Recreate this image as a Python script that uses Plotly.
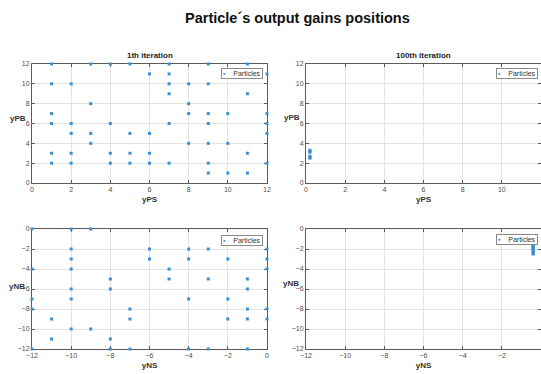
import plotly.graph_objects as go

# ---------------- data ----------------
# 1th iteration: yPS vs yPB
ps_1 = [1, 1, 1, 1, 1, 1,
        2, 2, 2, 2, 2,
        3, 3, 3, 3,
        4, 4, 4, 4,
        5, 5, 5, 5,
        6, 6, 6, 6,
        7, 7, 7, 7, 7, 7,
        8, 8, 8, 8,
        9, 9, 9, 9, 9, 9, 9,
        10, 10, 10,
        11, 11, 11, 11,
        12, 12, 12, 12, 12]
pb_1 = [12, 10, 7, 6, 3, 2,
        10, 6, 5, 3, 2,
        12, 8, 5, 4,
        12, 6, 3, 2,
        12, 5, 3, 2,
        11, 5, 3, 2,
        12, 11, 10, 9, 6, 2,
        10, 8, 7, 4,
        12, 10, 7, 6, 4, 2, 1,
        7, 4, 1,
        12, 9, 3, 1,
        11, 7, 6, 5, 2]

# 100th iteration: yPS vs yPB
ps_100 = [0.2, 0.2, 0.2, 0.2, 0.2, 0.2]
pb_100 = [2.5, 2.6, 2.7, 3.1, 3.2, 3.3]

# 1th iteration: yNS vs yNB
ns_1 = [-12, -12, -12, -12, -12,
        -11, -11,
        -10, -10, -10, -10, -10, -10, -10,
        -9, -9,
        -8, -8, -8, -8,
        -7, -7, -7,
        -6, -6,
        -5, -5,
        -4, -4, -4, -4,
        -3, -3, -3,
        -2, -2, -2,
        -1, -1, -1, -1, -1,
        0, 0, 0, 0, 0]
nb_1 = [0, -4, -7, -8, -12,
        -9, -11,
        0, -2, -3, -4, -6, -7, -10,
        0, -10,
        -5, -6, -11, -12,
        -8, -9, -12,
        -2, -3,
        -4, -5,
        -2, -3, -7, -12,
        -2, -5, -12,
        -3, -7, -9,
        -5, -6, -8, -9, -12,
        -2, -3, -4, -8, -9]

# 100th iteration: yNS vs yNB
ns_100 = [-0.4, -0.4, -0.4, -0.4, -0.4, -0.4, -0.4, -0.4, -0.4, -0.4, -0.4]
nb_100 = [-1.5, -1.6, -1.7, -1.8, -1.9, -2.0, -2.1, -2.2, -2.3, -2.4, -2.5]

main_title = "Particle´s output gains positions"
sub_titles = ["1th iteration", "100th iteration"]
series_name = "Particles"

# ---------------- figure ----------------
W, H = 541, 374
FONT = "Liberation Sans, Arial, sans-serif"
MCOL = "#3a8fd3"
AXCOL = "#5a5a5a"
TICKCOL = "#4d4d4d"
GRID = "#e3e3e3"

def px(x):
    return x / W

def py(y):
    return 1 - y / H

fig = go.Figure()

panels = [
    (ps_1, pb_1, "x", "y"),
    (ps_100, pb_100, "x2", "y2"),
    (ns_1, nb_1, "x3", "y3"),
    (ns_100, nb_100, "x4", "y4"),
]
for xs, ys, xa, ya in panels:
    fig.add_trace(go.Scatter(
        x=xs, y=ys, mode="markers", name=series_name, showlegend=False,
        xaxis=xa, yaxis=ya, cliponaxis=False,
        marker=dict(symbol="square", size=3, color=MCOL, line=dict(width=0)),
    ))

def axis(domain, rng, anchor, title=None):
    d = dict(
        domain=domain, range=rng, anchor=anchor, dtick=2, automargin=False,
        showgrid=True, gridcolor=GRID, gridwidth=1, zeroline=False,
        showline=True, linecolor=AXCOL, linewidth=1, mirror="ticks",
        ticks="inside", ticklen=3, tickcolor=AXCOL, layer="below traces",
        tickfont=dict(family=FONT, size=7, color=TICKCOL),
    )
    if title:
        d["title"] = dict(text="<b>" + title + "</b>", standoff=3,
                          font=dict(family=FONT, size=8, color="#333333"))
    return d

xl = [px(32), px(267)]
xr = [px(306), 1.0]
yt = [py(183), py(64)]
yb = [py(349), py(229)]

fig.update_layout(
    xaxis=axis(xl, [0, 12], "y", "yPS"),
    yaxis=axis(yt, [0, 12], "x"),
    xaxis2=axis(xr, [0, 12], "y2", "yPS"),
    yaxis2=axis(yt, [0, 12], "x2"),
    xaxis3=axis(xl, [-12, 0], "y3", "yNS"),
    yaxis3=axis(yb, [-12, 0], "x3"),
    xaxis4=axis(xr, [-12, 0], "y4", "yNS"),
    yaxis4=axis(yb, [-12, 0], "x4"),
)

# small MATLAB-like legend boxes (one per panel)
legend_text = ("<span style='color:" + MCOL + "'>▪</span>"
               "&nbsp;&nbsp;&nbsp;&nbsp;" + series_name)

def legend_box(xr_px, yt_px):
    return dict(
        text=legend_text, x=px(xr_px), y=py(yt_px), xanchor="right",
        yanchor="top", bgcolor="white", bordercolor="#8a8a8a", borderwidth=1,
        borderpad=1, font=dict(family=FONT, size=7, color="#333333"),
    )

annotations = [
    dict(text="<b>" + main_title + "</b>", x=px(297), y=py(18),
         font=dict(family=FONT, size=14.5, color="#111111")),
    dict(text="<b>" + sub_titles[0] + "</b>", x=px(149.5), y=py(56),
         font=dict(family=FONT, size=8, color="#222222")),
    dict(text="<b>" + sub_titles[1] + "</b>", x=px(423.5), y=py(56),
         font=dict(family=FONT, size=8, color="#222222")),
    dict(text="<b>yPB</b>", x=px(28), y=py(119), xanchor="right",
         font=dict(family=FONT, size=8, color="#333333")),
    dict(text="<b>yPB</b>", x=px(302), y=py(118), xanchor="right",
         font=dict(family=FONT, size=8, color="#333333")),
    dict(text="<b>yNB</b>", x=px(27), y=py(286), xanchor="right",
         font=dict(family=FONT, size=8, color="#333333")),
    dict(text="<b>yNB</b>", x=px(301), y=py(283), xanchor="right",
         font=dict(family=FONT, size=8, color="#333333")),
    legend_box(263, 68.5),
    legend_box(538, 68.5),
    legend_box(263, 235),
    legend_box(538, 234.5),
]
for a in annotations:
    a.setdefault("xanchor", "center")
    a.setdefault("yanchor", "middle")
    a["xref"] = "paper"
    a["yref"] = "paper"
    a["showarrow"] = False
fig.update_layout(annotations=annotations)

fig.update_layout(
    width=W, height=H, autosize=False,
    margin=dict(l=0, r=0, t=0, b=0),
    paper_bgcolor="white", plot_bgcolor="white",
    font=dict(family=FONT),
)

# remove the browser's default 8px page margin so the figure fills the window
fig.write_html(
    "out.html",
    config={"displayModeBar": False},
    post_script="document.body.style.margin='0';document.body.style.overflow='hidden';",
)
